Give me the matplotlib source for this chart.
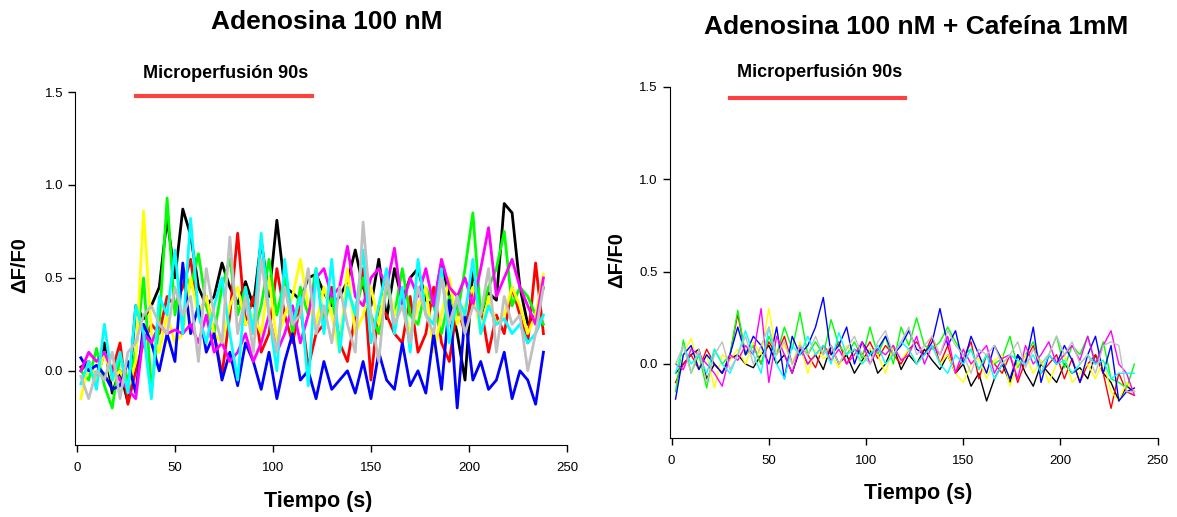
import numpy as np
import matplotlib
matplotlib.use("Agg")
import matplotlib.pyplot as plt

plt.rcParams['font.family'] = ['Liberation Sans', 'DejaVu Sans']

# tiempo de muestreo (s)
t = np.arange(2, 240, 4)

colores = ['black', 'red', '#00ff00', '#ffff00', '#0000ff', '#ff00ff', '#00ffff', '#c0c0c0']

# Adenosina 100 nM
ad_negro = [0.02, 0.05, -0.05, 0.15, -0.12, 0.0, -0.17, 0.35, 0.28, 0.35, 0.45, 0.82, 0.5, 0.87, 0.73,
            0.45, 0.35, 0.4, 0.58, 0.45, 0.36, 0.48, 0.35, 0.7, 0.4, 0.81, 0.45, 0.42, 0.38, 0.5,
            0.52, 0.42, 0.35, 0.4, 0.48, 0.65, 0.45, 0.35, 0.6, 0.28, 0.55, 0.38, 0.5, 0.55, 0.38,
            0.35, 0.58, 0.4, 0.2, -0.05, 0.55, 0.3, 0.42, 0.38, 0.9, 0.85, 0.45, 0.25, 0.3, 0.45]
ad_rojo = [0.0, 0.05, -0.05, 0.1, 0.0, 0.15, -0.18, 0.0, 0.15, 0.25, 0.2, 0.4, 0.35, 0.45, 0.6,
           0.3, 0.4, 0.2, -0.02, 0.3, 0.74, 0.25, 0.4, 0.1, 0.2, 0.55, 0.3, 0.15, 0.35, 0.02,
           0.2, 0.25, 0.45, 0.15, 0.05, 0.3, 0.55, -0.05, 0.35, 0.3, 0.2, 0.15, 0.4, 0.1, 0.2,
           0.45, 0.15, 0.05, 0.35, 0.2, 0.45, 0.35, 0.1, 0.3, 0.2, 0.45, 0.3, 0.15, 0.58, 0.2]
ad_verde = [0.0, -0.05, 0.12, -0.08, -0.2, 0.08, -0.05, 0.1, 0.5, -0.1, 0.25, 0.93, 0.3, 0.55, 0.45,
            0.63, 0.35, 0.2, 0.45, 0.6, 0.3, 0.45, 0.2, 0.35, 0.6, 0.3, 0.5, 0.2, 0.45, 0.3,
            0.55, 0.25, 0.4, 0.15, 0.45, 0.3, 0.5, 0.3, 0.2, 0.45, 0.3, 0.55, 0.3, 0.25, 0.45,
            0.35, 0.2, 0.4, 0.3, 0.55, 0.85, 0.3, 0.45, 0.55, 0.75, 0.35, 0.45, 0.4, 0.3, 0.25]
ad_amarillo = [-0.15, 0.05, -0.05, 0.1, -0.05, 0.0, -0.1, 0.05, 0.86, 0.2, 0.1, 0.3, 0.15, 0.2, 0.5,
               0.3, 0.4, 0.2, 0.15, 0.35, 0.45, 0.25, 0.3, 0.2, 0.5, 0.15, 0.3, 0.4, 0.6, 0.35,
               0.25, 0.45, 0.3, 0.1, 0.55, 0.2, 0.3, 0.45, 0.25, 0.5, 0.3, 0.4, 0.2, 0.35, 0.45,
               0.1, 0.3, 0.5, 0.25, 0.35, 0.45, 0.2, 0.4, 0.25, 0.3, 0.45, 0.35, 0.2, 0.3, 0.52]
ad_azul = [0.07, 0.0, 0.03, -0.02, -0.1, -0.08, 0.05, -0.12, 0.25, 0.15, 0.0, 0.2, 0.05, 0.58, 0.2,
           0.35, 0.1, 0.2, -0.05, 0.1, -0.08, 0.15, 0.05, -0.1, 0.1, -0.15, 0.05, 0.2, -0.05, 0.0,
           -0.15, 0.05, -0.1, -0.05, 0.0, -0.12, 0.05, -0.15, 0.1, -0.05, -0.1, 0.15, -0.08, 0.0, -0.12,
           0.2, -0.1, 0.38, -0.2, 0.3, -0.05, 0.05, -0.1, -0.05, 0.1, -0.15, 0.0, -0.05, -0.18, 0.1]
ad_magenta = [0.0, 0.1, 0.05, 0.1, 0.0, -0.05, -0.1, -0.15, 0.2, 0.15, 0.25, 0.2, 0.22, 0.2, 0.25,
              0.15, 0.3, 0.1, 0.15, 0.05, 0.1, 0.2, 0.05, 0.15, 0.3, 0.1, 0.2, 0.35, 0.15, 0.3,
              0.5, 0.55, 0.4, 0.45, 0.67, 0.4, 0.35, 0.5, 0.55, 0.45, 0.66, 0.35, 0.5, 0.4, 0.55,
              0.35, 0.6, 0.45, 0.4, 0.5, 0.35, 0.55, 0.77, 0.4, 0.5, 0.6, 0.45, 0.35, 0.25, 0.5]
ad_cian = [-0.07, 0.05, -0.1, 0.25, -0.05, 0.1, -0.12, 0.35, 0.2, -0.15, 0.4, 0.3, 0.65, 0.2, 0.82,
           0.3, 0.15, 0.35, 0.5, 0.2, -0.05, 0.45, 0.2, 0.74, 0.3, 0.0, 0.6, 0.25, 0.4, -0.08,
           0.55, 0.2, 0.6, 0.1, 0.45, 0.3, 0.65, 0.15, 0.35, 0.55, 0.2, 0.45, 0.1, 0.6, 0.3,
           0.25, 0.55, 0.15, 0.4, 0.3, 0.6, 0.2, 0.35, 0.25, 0.28, 0.2, 0.25, 0.15, 0.2, 0.3]
ad_gris = [-0.03, -0.15, 0.0, -0.05, 0.1, -0.15, 0.1, 0.15, 0.3, 0.35, 0.25, 0.2, 0.45, 0.3, 0.4,
           0.05, 0.55, 0.3, 0.15, 0.72, 0.2, 0.4, 0.1, 0.6, 0.3, 0.1, 0.45, 0.25, 0.3, 0.55,
           0.2, 0.35, 0.15, 0.45, 0.25, 0.1, 0.8, 0.3, 0.05, 0.5, 0.25, 0.35, 0.15, 0.45, 0.3,
           0.2, 0.5, 0.25, 0.4, 0.2, 0.35, 0.3, 0.55, 0.1, 0.4, 0.25, 0.3, 0.0, 0.2, 0.45]

# Adenosina 100 nM + Cafeina 1mM
caf_negro = [-0.05, 0.0, 0.05, 0.08, -0.08, 0.0, -0.05, 0.03, 0.05, 0.0, -0.02, 0.05, 0.1, 0.0, 0.05,
             -0.05, 0.08, 0.0, 0.05, -0.03, 0.1, 0.0, 0.05, -0.05, 0.02, 0.08, -0.05, 0.0, 0.1, -0.03,
             0.05, 0.0, 0.08, 0.02, -0.03, 0.05, -0.05, 0.0, -0.12, -0.05, -0.2, -0.08, 0.0, -0.1, 0.05,
             -0.05, -0.12, 0.0, -0.05, -0.1, 0.0, -0.05, -0.02, -0.08, 0.05, -0.05, -0.1, -0.2, -0.12, -0.15]
caf_rojo = [-0.1, 0.0, 0.05, -0.03, 0.08, 0.0, -0.05, 0.05, 0.27, 0.05, 0.1, 0.0, 0.12, 0.05, 0.15,
            0.0, 0.1, 0.05, -0.02, 0.1, 0.05, 0.12, 0.0, 0.08, 0.05, 0.12, 0.03, 0.1, 0.05, 0.0,
            0.08, 0.12, 0.05, 0.15, 0.0, 0.1, -0.05, 0.03, 0.12, -0.08, 0.05, 0.0, -0.05, 0.05, -0.1,
            0.02, 0.1, -0.05, 0.0, 0.05, -0.08, 0.03, -0.1, 0.0, 0.05, -0.05, -0.24, -0.05, -0.15, -0.17]
caf_verde = [-0.15, 0.13, -0.05, 0.05, -0.13, 0.08, 0.0, 0.05, 0.29, 0.05, 0.1, 0.0, 0.15, 0.05, 0.2,
             0.08, 0.28, 0.05, 0.12, 0.05, 0.24, 0.1, 0.05, 0.12, 0.03, 0.2, 0.05, 0.15, 0.0, 0.2,
             0.1, 0.25, 0.1, 0.08, 0.12, 0.2, 0.12, 0.05, 0.08, -0.03, 0.05, 0.0, 0.03, 0.15, -0.02,
             0.05, 0.12, 0.0, 0.05, 0.15, -0.02, 0.1, 0.05, 0.15, 0.0, 0.12, -0.08, -0.1, -0.13, 0.0]
caf_amarillo = [0.0, 0.05, 0.14, -0.03, 0.05, -0.13, 0.05, 0.02, 0.08, 0.0, 0.12, 0.05, 0.3, 0.05, 0.1,
                0.0, 0.12, -0.05, 0.08, 0.03, 0.05, -0.02, 0.1, 0.05, 0.0, 0.08, 0.05, -0.05, 0.1, 0.02,
                0.08, 0.0, 0.05, 0.1, 0.0, 0.05, -0.05, -0.1, 0.0, 0.03, -0.08, 0.02, 0.05, -0.12, 0.0,
                0.05, -0.05, 0.02, -0.1, 0.0, 0.05, -0.1, -0.05, 0.0, -0.08, 0.02, -0.15, -0.2, -0.1, -0.15]
caf_azul = [-0.19, 0.05, 0.1, -0.03, 0.05, 0.0, -0.05, 0.05, 0.2, 0.05, 0.15, 0.1, 0.0, 0.2, -0.08,
            0.15, 0.05, 0.1, 0.2, 0.36, 0.05, 0.1, 0.2, 0.0, 0.12, 0.05, 0.08, 0.15, 0.05, 0.1,
            0.18, 0.08, 0.05, 0.12, 0.3, 0.1, 0.18, 0.0, 0.15, 0.05, -0.05, 0.1, 0.02, -0.08, 0.05,
            0.0, 0.2, -0.1, 0.05, 0.0, 0.1, 0.02, -0.1, 0.05, 0.15, -0.05, 0.1, -0.2, -0.15, -0.13]
caf_magenta = [0.0, -0.03, 0.08, 0.05, 0.0, -0.05, -0.12, 0.05, 0.02, 0.1, 0.05, 0.3, -0.1, 0.15, 0.05,
               -0.05, 0.1, 0.0, 0.05, 0.1, 0.02, 0.08, 0.0, 0.05, 0.12, 0.0, 0.08, 0.05, 0.1, 0.02,
               0.05, 0.15, 0.0, 0.1, 0.05, 0.15, -0.05, 0.08, 0.0, 0.05, 0.1, -0.05, 0.03, 0.05, -0.08,
               0.1, 0.0, 0.05, 0.12, 0.0, 0.05, 0.1, 0.02, 0.15, 0.0, 0.1, 0.18, 0.0, -0.05, -0.17]
caf_cian = [-0.05, 0.1, 0.0, 0.05, -0.05, 0.08, 0.0, -0.05, 0.05, 0.18, 0.05, -0.05, 0.2, 0.0, -0.08,
            0.1, 0.05, 0.15, 0.05, 0.1, 0.0, 0.17, 0.05, 0.08, 0.0, 0.05, 0.1, 0.0, 0.05, 0.12,
            0.08, 0.0, 0.05, 0.1, 0.0, -0.05, 0.05, 0.0, 0.08, -0.03, 0.05, -0.08, 0.0, 0.05, 0.02,
            0.0, 0.05, -0.05, 0.05, 0.0, 0.02, -0.05, 0.0, 0.05, 0.0, 0.02, -0.08, -0.05, -0.05, -0.05]
caf_gris = [0.0, 0.1, -0.05, 0.08, -0.1, 0.05, 0.12, -0.03, 0.05, 0.15, 0.0, 0.1, 0.2, 0.05, 0.12,
            0.0, 0.1, 0.05, 0.15, 0.05, 0.1, 0.0, 0.08, 0.15, 0.05, 0.0, 0.12, 0.18, 0.05, 0.12,
            0.2, 0.05, 0.1, 0.15, 0.05, 0.18, 0.1, 0.05, -0.05, 0.08, 0.05, 0.1, 0.0, 0.05, 0.12,
            -0.02, 0.08, 0.0, 0.05, 0.15, 0.05, 0.12, 0.0, 0.05, -0.05, 0.1, 0.12, 0.1, -0.15, -0.15]

series_ad = [ad_negro, ad_rojo, ad_verde, ad_amarillo, ad_azul, ad_magenta, ad_cian, ad_gris]
series_caf = [caf_negro, caf_rojo, caf_verde, caf_amarillo, caf_azul, caf_magenta, caf_cian, caf_gris]

perfusion = [30, 120]

fig = plt.figure(figsize=(11.77, 5.17), dpi=100)
ax1 = fig.add_axes([0.0637, 0.139, 0.418, 0.683])
ax2 = fig.add_axes([0.569, 0.153, 0.4146, 0.679])


def estilo(ax):
    ax.set_xlim(-1, 250)
    ax.set_ylim(-0.4, 1.5)
    ax.spines['top'].set_visible(False)
    ax.spines['right'].set_visible(False)
    ax.set_xticks([0, 50, 100, 150, 200, 250])
    ax.set_yticks([0.0, 0.5, 1.0, 1.5])
    ax.set_yticklabels(['0.0', '0.5', '1.0', '1.5'])
    ax.tick_params(labelsize=9.5, length=5, width=1, direction='out')
    ax.tick_params(axis='x', pad=7)


for ys, c in zip(series_ad, colores):
    ax1.plot(t, ys, color=c, lw=2)
for ys, c in zip(series_caf, colores):
    ax2.plot(t, ys, color=c, lw=1)

for ax, ylin, ytxt in [(ax1, 1.48, 1.6), (ax2, 1.44, 1.58)]:
    estilo(ax)
    ax.plot(perfusion, [ylin, ylin], color='#ff4040', lw=3, clip_on=False)
    ax.text(76, ytxt, 'Microperfusión 90s', ha='center', va='center',
            fontsize=13, fontweight='bold', clip_on=False)

fig.text(327 / 1177, 1 - 22 / 517, 'Adenosina 100 nM', ha='center', va='center',
         fontsize=19, fontweight='bold')
fig.text(916 / 1177, 1 - 27 / 517, 'Adenosina 100 nM + Cafeína 1mM', ha='center', va='center',
         fontsize=19, fontweight='bold')

fig.text(20 / 1177, 1 - 265 / 517, 'ΔF/F0', rotation=90, ha='center', va='center',
         fontsize=14.5, fontweight='bold')
fig.text(617 / 1177, 1 - 260 / 517, 'ΔF/F0', rotation=90, ha='center', va='center',
         fontsize=14.5, fontweight='bold')

fig.text(318 / 1177, 1 - 502 / 517, 'Tiempo (s)', ha='center', va='center',
         fontsize=15.5, fontweight='bold')
fig.text(918 / 1177, 1 - 493 / 517, 'Tiempo (s)', ha='center', va='center',
         fontsize=15.5, fontweight='bold')

fig.savefig('out.png', dpi=100)
